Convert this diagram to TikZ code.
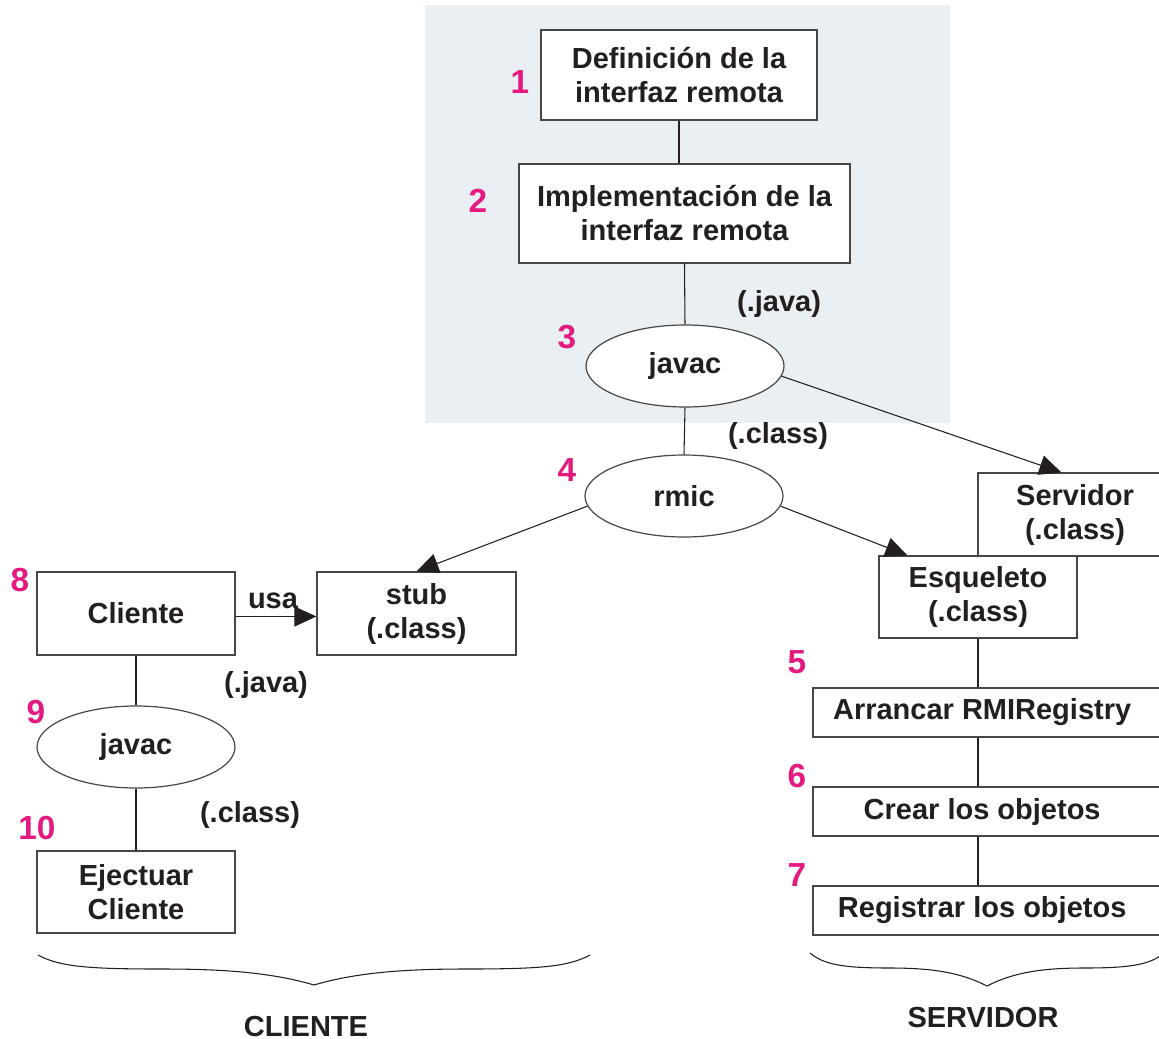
\documentclass[tikz,border=0pt]{standalone}
\usepackage{fontspec}
\setmainfont{Liberation Sans}
\usetikzlibrary{shapes.geometric,arrows.meta,calc}
\definecolor{ink}{RGB}{35,31,32}
\definecolor{pinknum}{RGB}{228,26,128}
\definecolor{bgblue}{RGB}{234,239,243}
\definecolor{edge}{RGB}{70,70,70}
\begin{document}
\begin{tikzpicture}[x=0.75pt,y=-0.75pt,
  txt/.style={font=\fontsize{21.75}{25.5}\selectfont\bfseries, text=ink},
  box/.style={txt, draw=edge, line width=0.9pt, fill=white, align=center, inner sep=0pt},
  oval/.style={txt, ellipse, draw=edge, line width=0.9pt, fill=white, inner sep=0pt,
               minimum width=148.5pt, minimum height=61.5pt},
  num/.style={font=\fontsize{25}{28}\selectfont\bfseries, text=pinknum, inner sep=0pt,
              text height=17.9pt, text depth=0pt},
  lbl/.style={txt, inner sep=0pt, text height=15.6pt, text depth=0pt},
  conn/.style={draw=ink, line width=0.8pt},
  arr/.style={conn, -{Triangle[length=16.5pt,width=15pt]}},
  brace/.style={draw=ink, line width=0.8pt}
]
\useasboundingbox (0,0) rectangle (1159,1038);
\fill[bgblue] (425,5) rectangle (950,423);

% top chain
\node[box, minimum width=207pt, minimum height=67.5pt] (b1) at (679,75) {Definición de la\\interfaz remota};
\node[box, minimum width=248.25pt, minimum height=74.25pt] (b2) at (684.5,213.5) {Implementación de la\\interfaz remota};
\node[oval] (j1) at (685,366) {javac};
\node[oval] (rm) at (684,496) {rmic};

% server side
\node[box, minimum width=145.5pt, minimum height=62.25pt] (serv) at (1075,514.5) {Servidor\\(.class)};
\node[box, minimum width=148.5pt, minimum height=61.5pt] (esq) at (978,597) {Esqueleto\\(.class)};
\node[box, minimum width=267.75pt, minimum height=36.75pt] (arr) at (991.5,712.5) {Arrancar RMIRegistry\hspace*{14pt}};
\node[box, minimum width=267.75pt, minimum height=36.75pt] (cr) at (991.5,811.5) {Crear los objetos\hspace*{14pt}};
\node[box, minimum width=267.75pt, minimum height=36.75pt] (reg) at (991.5,910.5) {Registrar los objetos\hspace*{14pt}};

% client side
\node[box, minimum width=149.25pt, minimum height=62.25pt] (stub) at (416.5,613.5) {stub\\(.class)};
\node[box, minimum width=148.5pt, minimum height=62.25pt] (cl) at (136,613.5) {Cliente};
\node[oval] (j2) at (136,747) {javac};
\node[box, minimum width=148.5pt, minimum height=61.5pt] (ej) at (136,892) {Ejectuar\\Cliente};

% numbers
\node[num] (n1) at (520,82) {1};
\node[num] (n2) at (478,201) {2};
\node[num] (n3) at (567,337) {3};
\node[num] (n4) at (567,470) {4};
\node[num] (n5) at (797,662) {5};
\node[num] (n6) at (797,776) {6};
\node[num] (n7) at (797,875) {7};
\node[num] (n8) at (20,580) {8};
\node[num] (n9) at (36,712) {9};
\node[num] (n10) at (37,828) {10};

% labels
\node[lbl] (l1) at (779,301) {(.java)};
\node[lbl] (l2) at (778,433) {(.class)};
\node[lbl] (l3) at (273,598) {usa};
\node[lbl] (l4) at (266,682) {(.java)};
\node[lbl] (l5) at (250,812) {(.class)};
\node[lbl] (cli) at (306,1026) {CLIENTE};
\node[lbl] (srv) at (983,1017) {SERVIDOR};

% connectors
\draw[conn] (b1.south) -- (b1.south |- b2.north);
\draw[conn] (b2.south) -- (j1.north);
\draw[conn] (j1.south) -- (rm.north);
\draw[arr] (j1.-6.4) -- ($(serv.north west)+(84,0)$);
\draw[arr] (rm.-6.4) -- ($(esq.north west)+(29,0)$);
\draw[arr] (rm.186) -- (stub.north);
\draw[arr] ($(cl.east)+(0,3)$) -- ($(stub.west)+(0,3)$);
\draw[conn] (cl.south) -- (j2.north);
\draw[conn] (j2.south) -- (ej.north);
\draw[conn] (esq.south) -- (esq.south |- arr.north);
\draw[conn] (esq.south |- arr.south) -- (esq.south |- cr.north);
\draw[conn] (esq.south |- cr.south) -- (esq.south |- reg.north);

% braces
\draw[brace] (38,955) .. controls (60,967) and (90,969) .. (162,969)
  .. controls (220,969) and (270,972) .. (314,985)
  .. controls (358,972) and (408,969) .. (466,969)
  .. controls (538,969) and (568,967) .. (590,955);
\draw[brace] (810,953) .. controls (824,965) and (845,968) .. (890,968)
  .. controls (930,968) and (960,972) .. (987,986)
  .. controls (1014,972) and (1044,968) .. (1084,968)
  .. controls (1129,968) and (1150,965) .. (1164,953);
\end{tikzpicture}
\end{document}
